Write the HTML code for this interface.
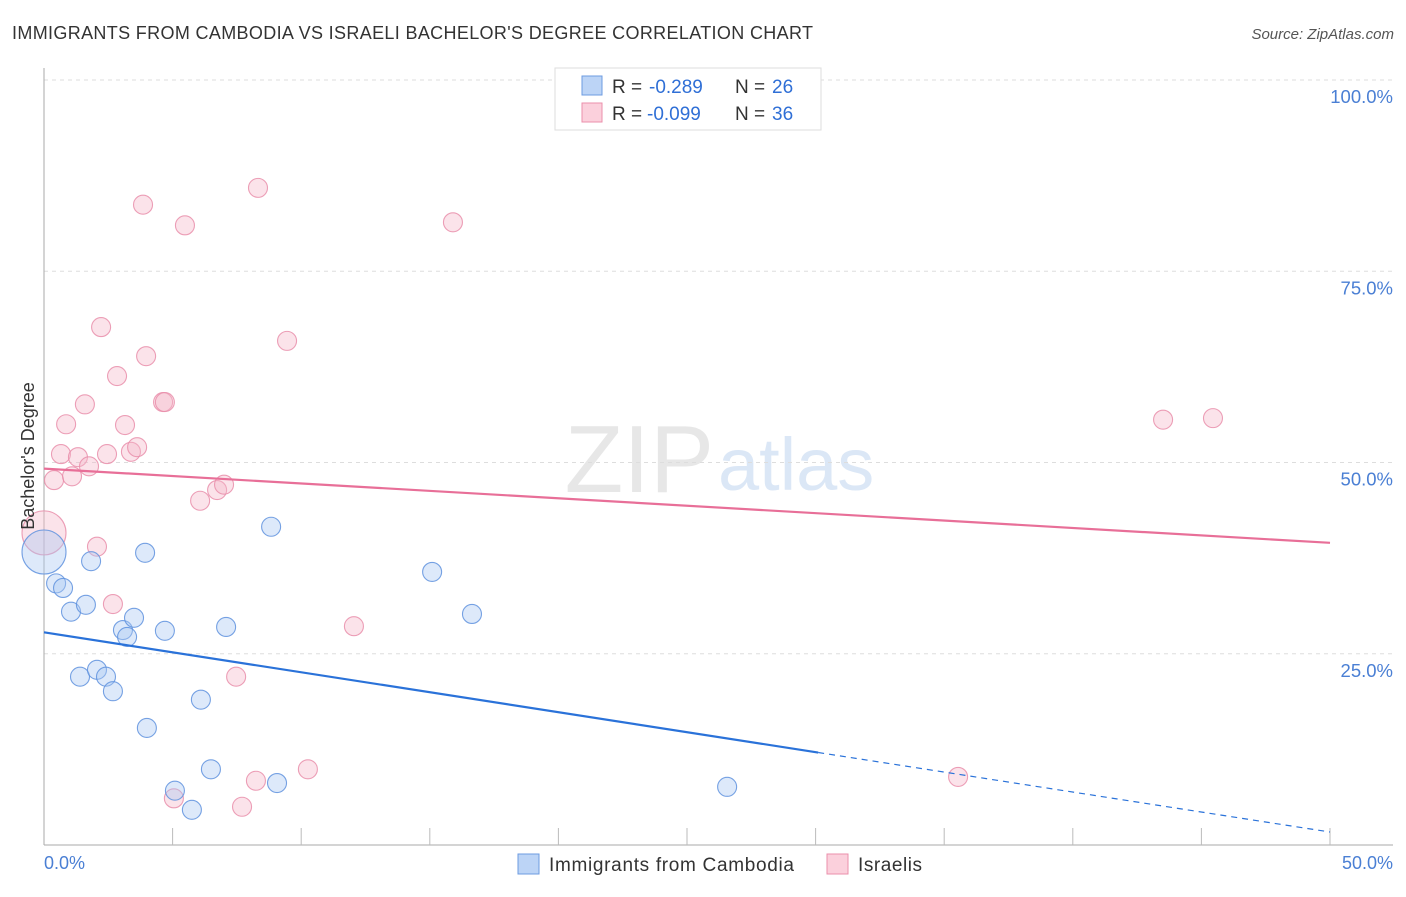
<!DOCTYPE html>
<html><head><meta charset="utf-8"><style>
body{margin:0;background:#fff;font-family:"Liberation Sans",sans-serif;}
svg text{font-family:"Liberation Sans",sans-serif;}
</style></head><body>
<svg width="1406" height="892" xmlns="http://www.w3.org/2000/svg">
<text x="12" y="39" font-size="18" fill="#333" textLength="801" lengthAdjust="spacing">IMMIGRANTS FROM CAMBODIA VS ISRAELI BACHELOR'S DEGREE CORRELATION CHART</text>
<text x="1394" y="39" font-size="15" fill="#555" font-style="italic" text-anchor="end">Source: ZipAtlas.com</text>
<g opacity="0.35">
<text x="714" y="492" font-size="96" font-family="Liberation Serif,serif" fill="#bbb" text-anchor="end">ZIP</text>
<text x="718" y="490" font-size="74" fill="#9bbbe6">atlas</text>
</g>
<g id="grid"></g>
<g id="axes"></g>
<g id="points"></g>
<g id="trends"></g>
<text transform="translate(34,456) rotate(-90)" font-size="18" fill="#333" text-anchor="middle">Bachelor's Degree</text>
<text x="44" y="869" font-size="18" fill="#4a7fd4">0.0%</text>
<text x="1393" y="869" font-size="18" fill="#4a7fd4" text-anchor="end">50.0%</text>
<g>
<rect x="555" y="68" width="266" height="62" fill="#fff" stroke="#ddd"/>
<rect x="582" y="76" width="20" height="19" fill="#bcd4f6" stroke="#6d9be0"/>
<rect x="582" y="103" width="20" height="19" fill="#fbd0dc" stroke="#eb8fab"/>
<text x="612" y="93" font-size="19" fill="#333">R =</text>
<text x="649" y="93" font-size="19" fill="#2f6fd6">-0.289</text>
<text x="735" y="93" font-size="19" fill="#333">N =</text>
<text x="772" y="93" font-size="19" fill="#2f6fd6">26</text>
<text x="612" y="120" font-size="19" fill="#333">R =</text>
<text x="647" y="120" font-size="19" fill="#2f6fd6">-0.099</text>
<text x="735" y="120" font-size="19" fill="#333">N =</text>
<text x="772" y="120" font-size="19" fill="#2f6fd6">36</text>
</g>
<g>
<rect x="518" y="854" width="21" height="20" fill="#bcd4f6" stroke="#6d9be0"/>
<text x="549" y="871" font-size="19" fill="#333" textLength="245">Immigrants from Cambodia</text>
<rect x="827" y="854" width="21" height="20" fill="#fbd0dc" stroke="#eb8fab"/>
<text x="858" y="871" font-size="19" fill="#333" textLength="64">Israelis</text>
</g>
</svg>
<script>
const yTicks=[25,50,75,100];
const yTickLabels=["25.0%","50.0%","75.0%","100.0%"];
const xTicks=[5,10,15,20,25,30,35,40,45,50];
const blueX=[0,0.47,0.74,1.05,1.63,1.83,1.40,2.06,2.41,2.68,3.07,3.23,3.50,3.93,4.00,4.70,5.09,5.75,6.10,6.49,7.08,8.83,9.06,15.09,16.64,26.56];
const blueY=[38.3,34.2,33.6,30.5,31.4,37.1,22.0,22.9,22.0,20.1,28.1,27.2,29.7,38.2,15.3,28.0,7.1,4.6,19.0,9.9,28.5,41.6,8.1,35.7,30.2,7.6];
const pinkX=[0,0.39,0.66,0.86,1.09,1.32,1.59,1.75,2.06,2.22,2.45,2.68,2.84,3.15,3.38,3.62,3.85,3.97,4.63,4.70,5.05,5.48,6.07,6.73,7.00,7.47,7.70,8.24,8.32,9.45,10.26,12.05,15.90,35.54,43.51,45.45];
const pinkY=[40.8,47.7,51.1,55.0,48.2,50.7,57.6,49.5,39.0,67.7,51.1,31.5,61.3,54.9,51.4,52.0,83.7,63.9,57.9,57.9,6.1,81.0,45.0,46.4,47.1,22.0,5.0,8.4,85.9,65.9,9.9,28.6,81.4,8.9,55.6,55.8];
const blueTrend=[27.8,1.7];
const blueSolidEnd=30.1;
const pinkTrend=[49.2,39.5];
const NS="http://www.w3.org/2000/svg";
const X=v=>44+v*25.72, Y=v=>845-v*7.65;
function mk(t,a,p){const e=document.createElementNS(NS,t);for(const k in a)e.setAttribute(k,a[k]);p.appendChild(e);return e;}
const grid=document.getElementById('grid');
yTicks.forEach((t,i)=>{
 const l=mk('line',{x1:44,x2:1393,y1:Y(t),y2:Y(t),stroke:'#ddd','stroke-dasharray':'4,4'},grid);
 
 
 const tx=mk('text',{x:1393,y:Y(t)+23,'font-size':18.5,fill:'#4a7fd4','text-anchor':'end'},grid);
 tx.textContent=yTickLabels[i];
 
 
});
const axes=document.getElementById('axes');
const ya=mk('line',{x1:44,x2:44,y1:68,y2:845,stroke:'#aaa'},axes);


const xa=mk('line',{x1:44,x2:1393,y1:845,y2:845,stroke:'#aaa'},axes);


xTicks.forEach(t=>{const l=mk('line',{x1:X(t),x2:X(t),y1:828,y2:845,stroke:'#bbb'},axes);
 
 });
const pts=document.getElementById('points');
function dots(xs,ys,fill,stroke,name){xs.forEach((x,i)=>{const r=(x===0)?22:9.5;
 const c=mk('circle',{cx:X(x),cy:Y(ys[i]),r:r,fill:fill,'fill-opacity':0.4,stroke:stroke,'stroke-width':1.1,'stroke-opacity':0.85},pts);
 
 });}
dots(pinkX,pinkY,'#f6b8cb','#e98eaa','israelis-point');
dots(blueX,blueY,'#a9c8f2','#5f92de','cambodia-point');
const tr=document.getElementById('trends');
const by=x=>blueTrend[0]+(blueTrend[1]-blueTrend[0])*x/50;
const b1=mk('line',{x1:X(0),y1:Y(by(0)),x2:X(blueSolidEnd),y2:Y(by(blueSolidEnd)),stroke:'#2a72d9','stroke-width':2.2},tr);


const b2=mk('line',{x1:X(blueSolidEnd),y1:Y(by(blueSolidEnd)),x2:X(50),y2:Y(by(50)),stroke:'#2a72d9','stroke-width':1.2,'stroke-dasharray':'6,5'},tr);


const p1=mk('line',{x1:X(0),y1:Y(pinkTrend[0]),x2:X(50),y2:Y(pinkTrend[1]),stroke:'#e86f98','stroke-width':2.2},tr);


</script>
</body></html>
